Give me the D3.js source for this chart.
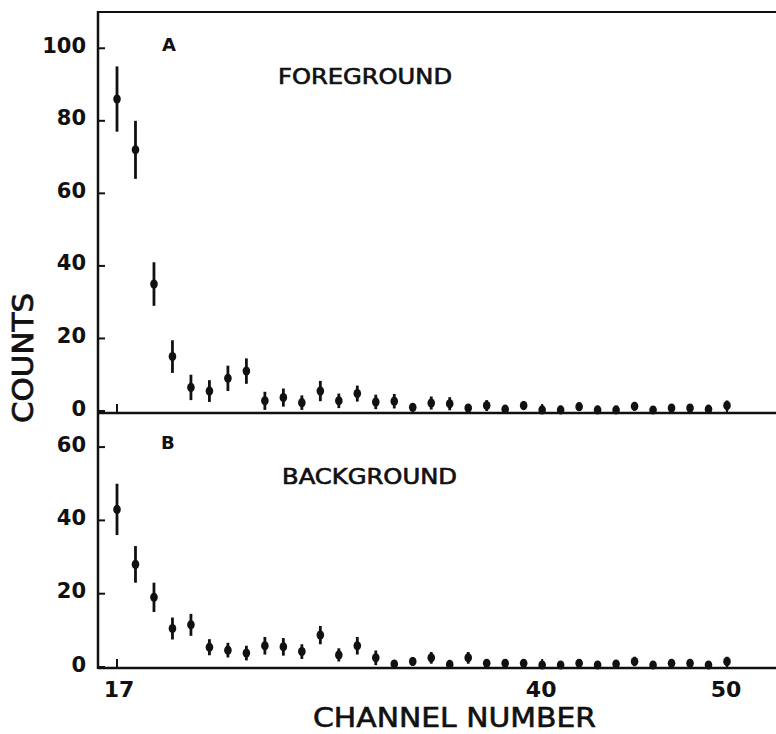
<!DOCTYPE html>
<html>
<head>
<meta charset="utf-8">
<script src="https://cdn.jsdelivr.net/npm/d3@7/dist/d3.min.js"></script>
<style>
body { margin: 0; background: #fff; }
text { font-family: "DejaVu Sans", sans-serif; fill: #111; }
</style>
</head>
<body>
<div id="chart"></div>
<script>
// channel numbers 17..50
var channels = [17, 18, 19, 20, 21, 22, 23, 24, 25, 26, 27, 28, 29, 30, 31, 32, 33,
    34, 35, 36, 37, 38, 39, 40, 41, 42, 43, 44, 45, 46, 47, 48, 49, 50];

// panel A - foreground counts and error half-widths
var foreground = [86, 72, 35, 15, 6.5, 5.5, 9, 11, 2.8, 3.7, 2.3, 5.5, 2.8, 4.8, 2.5, 2.7, 1,
    2.2, 2, 0.8, 1.5, 0.5, 1.5, 0.3, 0.3, 1.2, 0.3, 0.3, 1.3, 0.2, 0.8, 0.8, 0.5, 1.5];
var foregroundErr = [9, 8, 6, 4.5, 3.5, 3, 3.5, 3.5, 2.5, 2.5, 2, 2.8, 2, 2.2, 2, 2, 1,
    1.8, 1.8, 0.8, 1.5, 0.5, 1.2, 0.3, 0.3, 1, 0.3, 0.3, 1.2, 0.2, 0.8, 0.8, 0.5, 1.4];

// panel B - background
var background = [43, 28, 19, 10.5, 11.5, 5.4, 4.6, 3.8, 5.8, 5.5, 4.2, 8.7, 3.3, 5.8, 2.5, 0.8, 1.5,
    2.5, 0.7, 2.5, 1, 1, 1, 0.3, 0.3, 1, 0.2, 0.8, 1.5, 0.3, 1, 1, 0.5, 1.5];
var backgroundErr = [7, 5, 4, 3, 3, 2.2, 2, 2, 2.4, 2.4, 2, 2.5, 1.8, 2.4, 2, 0.8, 1.2,
    1.6, 0.7, 1.6, 1, 1, 1, 0.3, 0.3, 1, 0.2, 0.8, 1.3, 0.3, 1, 1, 0.5, 1.3];

var yTicksTop = [0, 20, 40, 60, 80, 100];
var yTicksBottom = [0, 20, 40, 60];
var xTicks = [17, 40, 50];

var width = 776,
    height = 734;

var svg = d3.select("#chart")
    .append("svg")
    .attr("width", width)
    .attr("height", height);

var left = 98, right = 776;
var x = d3.scaleLinear().domain([17, 50]).range([117, 727]);

var yTop = d3.scaleLinear().domain([0, 110]).range([411, 12]);
var yBot = d3.scaleLinear().domain([0, 69.3]).range([667, 413]);

// frame lines
svg.append("line").attr("x1", left).attr("x2", right).attr("y1", 12).attr("y2", 12)
    .style("stroke", "#111").style("stroke-width", 2);
svg.append("line").attr("x1", left).attr("x2", left).attr("y1", 11).attr("y2", 669)
    .style("stroke", "#111").style("stroke-width", 2.5);
svg.append("line").attr("x1", left).attr("x2", right).attr("y1", 413).attr("y2", 413)
    .style("stroke", "#111").style("stroke-width", 2.5);
svg.append("line").attr("x1", left).attr("x2", right).attr("y1", 668).attr("y2", 668)
    .style("stroke", "#111").style("stroke-width", 2.5);

drawPanel(yTop, yTicksTop, foreground, foregroundErr, 413);
drawPanel(yBot, yTicksBottom, background, backgroundErr, 668);

function drawPanel(y, ticks, vals, errs, base) {
    var g = svg.append("g");

    // y ticks pointing inward
    g.selectAll("line.yt")
        .data(ticks)
        .enter()
        .append("line")
        .attr("class", "yt")
        .attr("x1", left).attr("x2", left + 7)
        .attr("y1", function (d) { return y(d); })
        .attr("y2", function (d) { return y(d); })
        .style("stroke", "#111").style("stroke-width", 2);

    g.selectAll("text.yl")
        .data(ticks)
        .enter()
        .append("text")
        .attr("class", "yl")
        .attr("x", 86)
        .attr("y", function (d) { return y(d) - 3; })
        .attr("dy", "0.36em")
        .attr("text-anchor", "end")
        .style("font-size", "21px")
        .style("font-weight", "bold")
        .text(function (d) { return d; });

    // x ticks inward from the baseline
    g.selectAll("line.xt")
        .data(xTicks)
        .enter()
        .append("line")
        .attr("class", "xt")
        .attr("x1", function (d) { return x(d); })
        .attr("x2", function (d) { return x(d); })
        .attr("y1", base).attr("y2", base - 9)
        .style("stroke", "#111").style("stroke-width", 2);

    var pts = channels.map(function (c, i) {
        return {c: c, v: vals[i], e: errs[i]};
    });

    g.selectAll("line.err")
        .data(pts)
        .enter()
        .append("line")
        .attr("class", "err")
        .attr("x1", function (d) { return x(d.c); })
        .attr("x2", function (d) { return x(d.c); })
        .attr("y1", function (d) { return Math.min(y(d.v + d.e), y(d.v) - 4); })
        .attr("y2", function (d) { return Math.min(y(Math.max(d.v - d.e, 0)), base); })
        .style("stroke", "#111").style("stroke-width", 2.8);

    g.selectAll("ellipse")
        .data(pts)
        .enter()
        .append("ellipse")
        .attr("cx", function (d) { return x(d.c); })
        .attr("cy", function (d) { return Math.min(y(d.v), base - 3); })
        .attr("rx", 3.8)
        .attr("ry", 4.6)
        .style("fill", "#111");
}

// panel letters and titles
svg.append("text").attr("x", 162).attr("y", 51).style("font-size", "18px")
    .style("font-weight", "bold").text("A");
svg.append("text").attr("x", 278).attr("y", 84).style("font-size", "22px")
    .style("stroke", "#111").style("stroke-width", 0.7)
    .attr("textLength", 174).attr("lengthAdjust", "spacingAndGlyphs").text("FOREGROUND");

svg.append("text").attr("x", 161).attr("y", 449).style("font-size", "18px")
    .style("font-weight", "bold").text("B");
svg.append("text").attr("x", 282).attr("y", 484).style("font-size", "22px")
    .style("stroke", "#111").style("stroke-width", 0.7)
    .attr("textLength", 175).attr("lengthAdjust", "spacingAndGlyphs").text("BACKGROUND");

// x tick labels
svg.selectAll("text.xl")
    .data(xTicks)
    .enter()
    .append("text")
    .attr("class", "xl")
    .attr("x", function (d) { return x(d) + (d == 17 ? 2 : -1); })
    .attr("y", 697)
    .attr("text-anchor", "middle")
    .style("font-size", "22px")
    .style("font-weight", "bold")
    .text(function (d) { return d; });

// axis titles
svg.append("text")
    .attr("x", 313).attr("y", 727)
    .attr("textLength", 283).attr("lengthAdjust", "spacingAndGlyphs")
    .style("font-size", "26px")
    .style("stroke", "#111").style("stroke-width", 0.6)
    .text("CHANNEL NUMBER");

svg.append("text")
    .attr("transform", "translate(33,423) rotate(-90)")
    .attr("textLength", 130).attr("lengthAdjust", "spacingAndGlyphs")
    .style("font-size", "28px")
    .style("stroke", "#111").style("stroke-width", 0.8)
    .text("COUNTS");
</script>
</body>
</html>
